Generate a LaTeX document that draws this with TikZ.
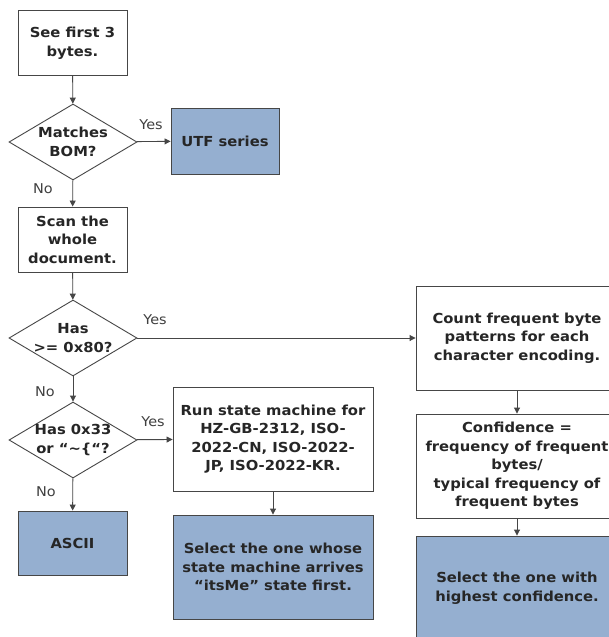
\documentclass[tikz,border=0pt]{standalone}
\usepackage{fontspec}
\setmainfont{DejaVu Sans}[FakeStretch=1.07]
\usetikzlibrary{shapes.geometric,arrows.meta}
\definecolor{fillblue}{RGB}{149,175,208}
\definecolor{edge}{RGB}{70,70,70}
\begin{document}
\begin{tikzpicture}[x=1pt,y=-1pt,
  box/.style={draw=edge,line width=0.9pt,fill=white,inner sep=0pt,align=center,
    font=\fontsize{13.8}{18.5}\selectfont\bfseries,text=black!85},
  endbox/.style={box,fill=fillblue},
  decision/.style={draw=edge,line width=0.9pt,diamond,fill=white,inner sep=0pt,
    minimum width=128pt,minimum height=76pt},
  dtext/.style={align=center,inner sep=0pt,font=\fontsize{13.8}{18.5}\selectfont\bfseries,text=black!85},
  lbl/.style={font=\fontsize{13.5}{15}\selectfont,text=black!75,inner sep=0pt},
  conn/.style={draw=edge,line width=0.9pt,-{Triangle[length=6pt,width=6pt]}}]
\useasboundingbox (0,0) rectangle (609,637);
\fill[white] (0,0) rectangle (609,637);
% left column
\node[box,minimum width=109pt,minimum height=65pt] (see) at (72.5,43) {See first 3\\bytes.};
\node[decision] (bom) at (73,142) {};
\node[dtext] (bomt) at (73,142) {Matches\\BOM?};
\node[endbox,minimum width=108pt,minimum height=66pt] (utf) at (225,141) {UTF series};
\node[box,minimum width=109pt,minimum height=65pt] (scan) at (72.5,239.5) {Scan the\\whole\\document.};
\node[decision] (hi) at (73,338) {};
\node[dtext] (hit) at (73,338) {Has\\>= 0x80?};
\node[decision] (esc) at (73,440) {};
\node[dtext] (esct) at (73,440) {Has 0x33\\or “\textasciitilde\{“?};
\node[endbox,minimum width=109pt,minimum height=64pt] (ascii) at (72.5,543) {ASCII};
% middle column
\node[box,minimum width=200pt,minimum height=104pt] (run) at (273,439)
  {Run state machine for\\HZ-GB-2312, ISO-\\2022-CN, ISO-2022-\\JP, ISO-2022-KR.};
\node[endbox,minimum width=200pt,minimum height=104pt] (sel) at (273,567)
  {Select the one whose\\state machine arrives\\“itsMe” state first.};
% right column
\node[box,minimum width=202pt,minimum height=104pt] (count) at (517,338)
  {Count frequent byte\\patterns for each\\character encoding.};
\node[box,minimum width=202pt,minimum height=104pt] (conf) at (517,466)
  {Confidence =\\frequency of frequent\\bytes/\\typical frequency of\\frequent bytes};
\node[endbox,minimum width=202pt,minimum height=104pt] (high) at (517,588)
  {Select the one with\\highest confidence.};
% connectors
\draw[conn] (see) -- (bom);
\draw[conn] (bom) -- (utf);
\draw[conn] (bom) -- (scan);
\draw[conn] (scan) -- (hi);
\draw[conn] (hi) -- (count);
\draw[conn] (hi) -- (esc);
\draw[conn] (esc) -- (run);
\draw[conn] (esc) -- (ascii);
\draw[conn] (run) -- (sel);
\draw[conn] (count) -- (conf);
\draw[conn] (conf) -- (high);
% labels
\node[lbl] (y1) at (151,125) {Yes};
\node[lbl] (n1) at (43,189) {No};
\node[lbl] (y2) at (155,320) {Yes};
\node[lbl] (n2) at (45,392) {No};
\node[lbl] (y3) at (153,422) {Yes};
\node[lbl] (n3) at (46,492) {No};
\end{tikzpicture}
\end{document}
